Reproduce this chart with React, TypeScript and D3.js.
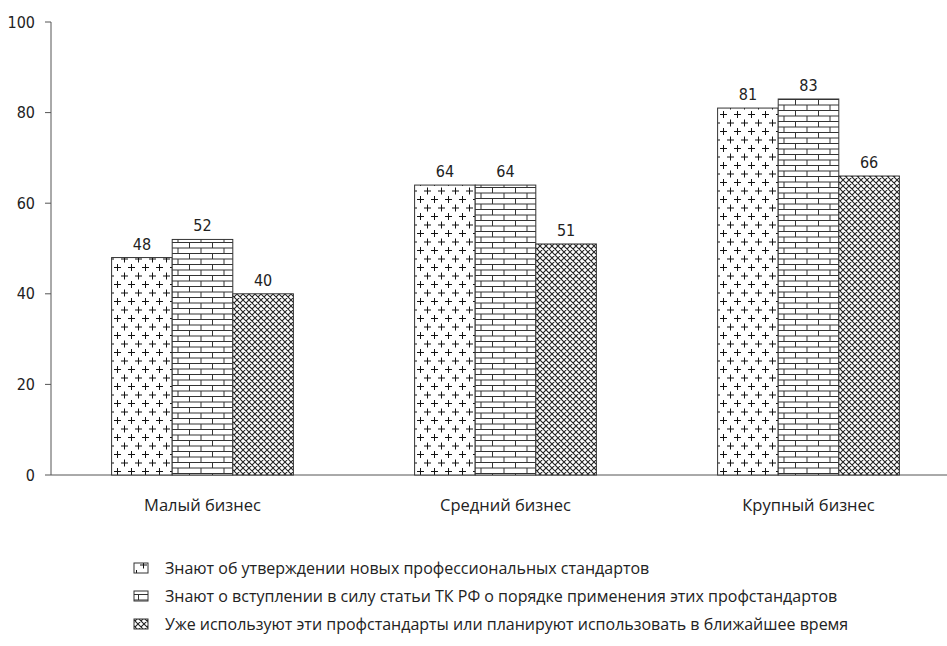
import React from "react";
import * as d3 from "d3";

const categories = ["Малый бизнес", "Средний бизнес", "Крупный бизнес"];
const seriesNames = [
  "Знают об утверждении новых профессиональных стандартов",
  "Знают о вступлении в силу статьи ТК РФ о порядке применения этих профстандартов",
  "Уже используют эти профстандарты или планируют использовать в ближайшее время",
];
const seriesValues = [
  [48, 64, 81],
  [52, 64, 83],
  [40, 51, 66],
];
const yTicks = [0, 20, 40, 60, 80, 100];
const patternIds = ["pPlus", "pBrick", "pHatch"];

const W = 947;
const H = 646;
const left = 51;
const top = 22;
const bottom = 475;
const numFont = "'Liberation Sans Narrow', 'DejaVu Sans Condensed', Arial, sans-serif";
const textFont = "'Open Sans', 'Noto Sans', sans-serif";

export default function App() {
  const y = d3.scaleLinear().domain([0, 100]).range([bottom, top]);
  const x0 = d3.scaleBand<string>().domain(categories).range([left, 960]).padding(0);
  const bw = x0.bandwidth() * 0.2;
  const x1 = d3
    .scaleBand<number>()
    .domain([0, 1, 2])
    .range([x0.bandwidth() / 2 - 1.5 * bw, x0.bandwidth() / 2 + 1.5 * bw])
    .padding(0);

  return (
    <svg width={W} height={H} style={{ position: "absolute", left: 0, top: 0, background: "#fff" }}>
      <defs>
        <pattern id="pPlus" width={14} height={17} patternUnits="userSpaceOnUse">
          <rect width={14} height={17} fill="#fff" />
          <path d="M3.5,0.5 V7.5 M0,4 H7 M10.5,9 V16 M7,12.5 H14" stroke="#111" strokeWidth={1} />
        </pattern>
        <pattern id="pBrick" width={23} height={11} patternUnits="userSpaceOnUse">
          <rect width={23} height={11} fill="#fff" />
          <path d="M0,0.5 H23 M0,6 H23 M0.5,0 V6 M12,6 V11" stroke="#333" strokeWidth={1} />
        </pattern>
        <pattern id="pHatch" width={6} height={6} patternUnits="userSpaceOnUse">
          <rect width={6} height={6} fill="#fff" />
          <path d="M0,0 L6,6 M6,0 L0,6 M-1,5 L1,7 M5,-1 L7,1 M-1,1 L1,-1 M5,7 L7,5" stroke="#222" strokeWidth={1.1} />
        </pattern>
      </defs>

      {/* axes */}
      <line x1={left} x2={left} y1={top} y2={bottom} stroke="#555" strokeWidth={1} />
      <line x1={left} x2={W} y1={bottom} y2={bottom} stroke="#555" strokeWidth={1} />
      {yTicks.map((t) => (
        <g key={t}>
          <line x1={left - 6} x2={left} y1={y(t)} y2={y(t)} stroke="#555" strokeWidth={1} />
          <text x={35} y={y(t)} dy="0.35em" textAnchor="end" fontFamily={numFont} fontSize={16} fill="#222">
            {t}
          </text>
        </g>
      ))}

      {/* bars */}
      {categories.map((c, ci) => (
        <g key={c} transform={`translate(${x0(c)},0)`}>
          {seriesValues.map((vals, si) => {
            const v = vals[ci];
            const bx = x1(si)!;
            return (
              <g key={si}>
                <rect
                  x={bx}
                  y={y(v)}
                  width={bw}
                  height={bottom - y(v)}
                  fill={`url(#${patternIds[si]})`}
                  stroke="#333"
                  strokeWidth={1}
                />
                <text
                  x={bx + bw / 2}
                  y={y(v) - 8}
                  textAnchor="middle"
                  fontFamily={numFont}
                  fontSize={16}
                  fill="#222"
                >
                  {v}
                </text>
              </g>
            );
          })}
          <text
            x={x0.bandwidth() / 2}
            y={511}
            textAnchor="middle"
            fontFamily={textFont}
            fontSize={16.5}
            fill="#222"
          >
            {c}
          </text>
        </g>
      ))}

      {/* legend */}
      {seriesNames.map((n, i) => {
        const ly = 568 + i * 28;
        return (
          <g key={n}>
            <rect x={134} y={ly - 5} width={14} height={10} fill={`url(#${patternIds[i]})`} stroke="#333" strokeWidth={1} />
            <text x={165} y={ly} dy="0.35em" fontFamily={textFont} fontSize={16} fill="#222">
              {n}
            </text>
          </g>
        );
      })}
    </svg>
  );
}
